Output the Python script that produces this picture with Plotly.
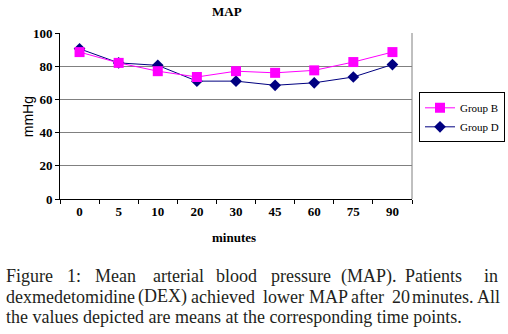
import plotly.graph_objects as go

minutes = ["0", "5", "10", "20", "30", "45", "60", "75", "90"]
group_b = [88.5, 82, 77, 73.5, 77, 76, 77.5, 82.5, 88.5]
group_d = [90.5, 82, 80.5, 71, 71, 68.5, 70, 73.5, 81]
y_ticks = [0, 20, 40, 60, 80, 100]

W, H = 508, 334
L, R, T, B = 60, 412, 32.5, 199


def px(x):
    return (x - L) / (R - L)


def py(y):
    return (B - y) / (B - T)


fig = go.Figure()
fig.add_trace(go.Scatter(
    x=minutes, y=group_d, name="Group D", mode="lines+markers",
    line=dict(color="#000080", width=1),
    marker=dict(symbol="diamond", size=9, color="#000080"),
    legendrank=2,
))
fig.add_trace(go.Scatter(
    x=minutes, y=group_b, name="Group B", mode="lines+markers",
    line=dict(color="#FF00FF", width=1),
    marker=dict(symbol="square", size=10, color="#FF00FF"),
    legendrank=1,
))

serif = "Liberation Serif, Times New Roman, serif"

fig.update_layout(
    width=W, height=H,
    margin=dict(l=L, r=W - R, t=T, b=H - B, pad=0, autoexpand=False),
    paper_bgcolor="white", plot_bgcolor="white",
    showlegend=True,
    legend=dict(
        x=px(419), y=py(92), xanchor="left", yanchor="top",
        bordercolor="black", borderwidth=1, bgcolor="white",
        font=dict(family=serif, size=11, color="black"),
        itemwidth=30, tracegroupgap=0,
    ),
    xaxis=dict(
        type="category", range=[-0.5, 8.5], tickson="boundaries",
        showgrid=False, showline=True, linecolor="black", linewidth=1,
        ticks="outside", ticklen=4, tickcolor="black",
        tickfont=dict(family=serif, size=13, color="black", weight="bold"),
        mirror=False, zeroline=False,
    ),
    yaxis=dict(
        range=[0, 100], tickvals=y_ticks, showgrid=True, gridcolor="#808080",
        gridwidth=1, showline=True, linecolor="black", linewidth=1,
        ticks="outside", ticklen=4, tickcolor="black",
        tickfont=dict(family=serif, size=13, color="black", weight="bold"),
        zeroline=False,
    ),
    shapes=[
        dict(type="line", xref="paper", yref="paper", x0=1, x1=1, y0=0, y1=1,
             line=dict(color="#808080", width=1)),
    ],
)

ann = []
ann.append(dict(text="<b>MAP</b>", x=px(227), y=py(11), xref="paper", yref="paper",
                xanchor="center", yanchor="middle",
                showarrow=False, font=dict(family=serif, size=13, color="black")))
ann.append(dict(text="<b>minutes</b>", x=px(234), y=py(238), xref="paper", yref="paper",
                xanchor="center", yanchor="middle",
                showarrow=False, font=dict(family=serif, size=13, color="black")))
ann.append(dict(text="mmHg", x=px(28), y=py(117), xref="paper", yref="paper",
                xanchor="center", yanchor="middle",
                showarrow=False, textangle=-90,
                font=dict(family="Liberation Sans, Arial, sans-serif", size=14, color="black")))

cap_font = dict(family=serif, size=18, color="#231f20")
line1 = [("Figure", 5), ("1:", 66), ("Mean", 94), ("arterial", 152), ("blood", 215),
         ("pressure", 270), ("(MAP).", 340), ("Patients", 404), ("in", 483)]
line2 = [("dexmedetomidine", 5), ("(DEX)", 137), ("achieved", 190), ("lower", 262),
         ("MAP", 308), ("after", 350), ("20", 391), ("minutes.", 411), ("All", 476)]
for words, yc in ((line1, 276.5), (line2, 297)):
    for w, xs in words:
        ann.append(dict(text=w, x=px(xs), y=py(yc), xref="paper", yref="paper",
                        xanchor="left", yanchor="middle", showarrow=False,
                        font=cap_font, borderpad=0))
ann.append(dict(text="the values depicted are means at the corresponding time points.",
                x=px(5), y=py(317.5), xref="paper", yref="paper", xanchor="left",
                yanchor="middle", showarrow=False, font=cap_font, borderpad=0))
fig.update_layout(annotations=ann)

fig.write_html(
    "out.html",
    config={"displayModeBar": False},
    post_script="document.body.style.margin='0';document.body.style.overflow='hidden';",
)
